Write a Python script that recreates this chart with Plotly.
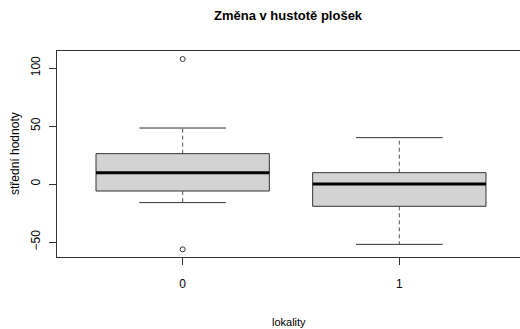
import plotly.graph_objects as go

categories = ["0", "1"]
q1 = [-6.0, -19.2]
median = [9.8, 0.0]
q3 = [26.2, 9.8]
whisker_low = [-16.0, -52.0]
whisker_high = [48.3, 40.0]
outlier_x = ["0", "0"]
outlier_y = [107.8, -56.3]
y_ticks = [-50, 0, 50, 100]

BOX_HALF = 0.4
STAPLE_HALF = 0.2
LINE = "#333333"

fig = go.Figure()
pos = {c: i for i, c in enumerate(categories)}

for i, c in enumerate(categories):
    p = pos[c]
    # whiskers (dashed)
    fig.add_trace(go.Scatter(
        x=[p, p, None, p, p], y=[q3[i], whisker_high[i], None, q1[i], whisker_low[i]],
        mode="lines", line=dict(color="#555555", width=1, dash="4px,3px"),
        hoverinfo="skip", showlegend=False))
    # staples
    fig.add_trace(go.Scatter(
        x=[p - STAPLE_HALF, p + STAPLE_HALF, None, p - STAPLE_HALF, p + STAPLE_HALF],
        y=[whisker_high[i], whisker_high[i], None, whisker_low[i], whisker_low[i]],
        mode="lines", line=dict(color=LINE, width=1),
        hoverinfo="skip", showlegend=False))
    # box
    fig.add_trace(go.Scatter(
        x=[p - BOX_HALF, p + BOX_HALF, p + BOX_HALF, p - BOX_HALF, p - BOX_HALF],
        y=[q1[i], q1[i], q3[i], q3[i], q1[i]],
        mode="lines", fill="toself", fillcolor="#D3D3D3",
        line=dict(color=LINE, width=1), hoverinfo="skip", showlegend=False))
    # median
    fig.add_trace(go.Scatter(
        x=[p - BOX_HALF, p + BOX_HALF], y=[median[i], median[i]],
        mode="lines", line=dict(color="black", width=3),
        hoverinfo="skip", showlegend=False))

fig.add_trace(go.Scatter(
    x=[pos[c] for c in outlier_x], y=outlier_y, mode="markers",
    marker=dict(symbol="circle-open", size=5, color=LINE, line=dict(width=1)),
    hoverinfo="skip", showlegend=False))

FONT = "Liberation Sans, Arial, sans-serif"

fig.update_layout(
    width=520, height=329,
    margin=dict(l=57, r=0, t=51, b=72),
    paper_bgcolor="white", plot_bgcolor="white",
    xaxis=dict(
        range=[-0.58, 1.557], tickvals=list(range(len(categories))), ticktext=categories,
        showgrid=False, zeroline=False, showline=True, mirror=True,
        linecolor=LINE, linewidth=1, ticks="outside", ticklen=7, tickcolor=LINE,
        tickfont=dict(family=FONT, size=12, color="black"), ticklabelstandoff=9),
    yaxis=dict(
        range=[-62.9, 114.7], tickvals=y_ticks,
        showgrid=False, zeroline=False, showline=True, mirror=False,
        linecolor=LINE, linewidth=1, ticks="outside", ticklen=7, tickcolor=LINE,
        tickangle=-90, tickfont=dict(family=FONT, size=12, color="black"),
        ticklabelstandoff=4),
    annotations=[
        dict(text="<b>Změna v hustotě plošek</b>", xref="paper", yref="paper",
             x=0.5005, y=1, yshift=36, showarrow=False,
             font=dict(family=FONT, size=13, color="black"),
             xanchor="center", yanchor="middle"),
        dict(text="lokality", xref="paper", yref="paper", x=0.5, y=0, yshift=-65,
             showarrow=False, font=dict(family=FONT, size=11, color="black"),
             xanchor="center", yanchor="middle"),
        dict(text="střední hodnoty", xref="paper", yref="paper", x=0, xshift=-42,
             y=0.5, textangle=-90, showarrow=False,
             font=dict(family=FONT, size=12, color="black"),
             xanchor="center", yanchor="middle"),
    ],
)

fig.write_html(
    "out.html",
    config={"displayModeBar": False},
    post_script=("document.body.style.margin='0';"
                 "document.body.style.overflow='hidden';"
                 "document.documentElement.style.overflow='hidden';"),
)
